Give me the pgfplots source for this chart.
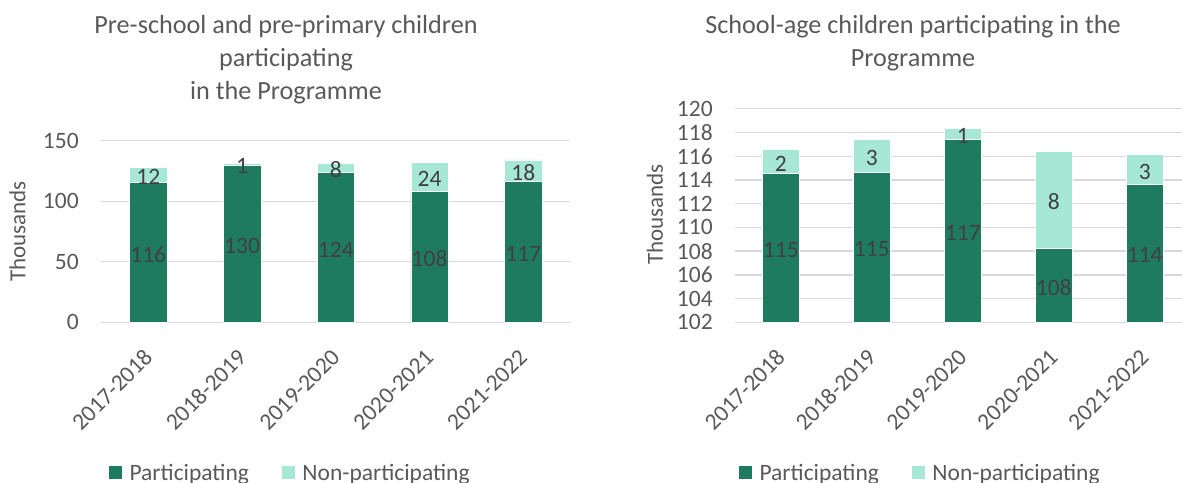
\documentclass[border=0pt]{standalone}
\usepackage{fontspec}
\setmainfont{Carlito}
\usepackage{pgfplots}
\usepackage{pgfplotstable}
\pgfplotsset{compat=1.18}

\definecolor{partgreen}{HTML}{1F7B60}
\definecolor{nongreen}{HTML}{A6E8D5}
\definecolor{txtgrey}{HTML}{595959}
\definecolor{lblgrey}{HTML}{404040}
\definecolor{gridgrey}{HTML}{D9D9D9}

% pre-school, thousands
\pgfplotstableread{
x y
0 115.6
1 129.9
2 123.7
3 108.2
4 116.6
}\preP
\pgfplotstableread{
x y
0 12.2
1 1.1
2 7.9
3 24.2
4 17.6
}\preN
% school-age, thousands
\pgfplotstableread{
x y
0 114.54
1 114.66
2 117.41
3 108.25
4 113.62
}\schP
\pgfplotstableread{
x y
0 2.03
1 2.75
2 0.93
3 8.15
4 2.53
}\schN

% data labels, set in the middle of each visible segment
\pgfplotstableread{
x y lab
0 57.8 116
1 64.95 130
2 61.85 124
3 54.1 108
4 58.3 117
0 121.7 12
1 130.45 1
2 127.65 8
3 120.3 24
4 125.4 18
}\preLab
\pgfplotstableread{
x y lab
0 108.27 115
1 108.33 115
2 109.705 117
3 105.125 108
4 107.81 114
0 115.555 2
1 116.035 3
2 117.875 1
3 112.325 8
4 114.885 3
}\schLab

\pgfplotsset{
  panel/.style={
    scale only axis,
    ybar stacked,
    enlargelimits=false,
    axis line style={draw=none},
    tick style={draw=none},
    ymajorgrids,
    grid style={gridgrey, line width=1.4pt},
    xtick=data,
    xticklabels={2017-2018,2018-2019,2019-2020,2020-2021,2021-2022},
    xmin=-0.5,
    ticklabel style={font=\fontsize{23.5}{26}\selectfont, text=txtgrey},
    xticklabel style={inner sep=0pt, xshift=0pt, yshift=-31pt, rotate=45, anchor=east},
    yticklabel style={anchor=east, inner sep=0pt, xshift=-22.5pt},
    /pgf/number format/assume math mode=true,
    ylabel={Thousands},
    ylabel style={font=\fontsize{23}{26}\selectfont, text=txtgrey, anchor=center},
    legend columns=2,
    legend style={draw=none, fill=none, font=\fontsize{23.5}{26}\selectfont, text=txtgrey,
      anchor=center, /tikz/every even column/.append style={column sep=30pt}},
    legend image code/.code={\fill[#1] (0pt,-6pt) rectangle (14pt,8pt); \path (19pt,0pt);},
  },
  labels/.style={
    scale only axis, hide axis, clip=false,
    enlargelimits=false, xmin=-0.5,
  },
  labelplot/.style={
    draw=none, mark=none,
    nodes near coords, point meta=explicit symbolic,
    every node near coord/.append style={font=\fontsize{23.5}{26}\selectfont,
      text=lblgrey, anchor=center, inner sep=0pt, yshift=-2pt},
  },
}

\begin{document}
\begin{tikzpicture}

\begin{axis}[panel,
    at={(101.4pt,159.7pt)}, anchor=south west,
    width=468.8pt, height=181.6pt,
    xmax=4.5, ymin=0, ymax=150,
    ytick={0,50,100,150},
    bar width=37.5pt,
    ylabel style={at={(axis description cs:-0.179,0.5)}},
    legend style={at={(axis description cs:0.402,-0.83)}},
  ]
  \addplot[fill=partgreen, draw=white, line width=0.5pt] table[x=x, y=y] {\preP};
  \addplot[fill=nongreen, draw=white, line width=0.5pt] table[x=x, y=y] {\preN};
  \legend{Participating, Non-participating}
\end{axis}
\begin{axis}[labels,
    at={(101.4pt,159.7pt)}, anchor=south west,
    width=468.8pt, height=181.6pt,
    xmax=4.5, ymin=0, ymax=150]
  \addplot[labelplot] table[x=x, y=y, meta=lab] {\preLab};
\end{axis}

\begin{axis}[panel,
    at={(735.4pt,159.7pt)}, anchor=south west,
    width=446.6pt, height=213.5pt,
    xmax=4.41, ymin=102, ymax=120,
    ytick={102,104,...,120},
    bar width=36.4pt,
    ylabel style={at={(axis description cs:-0.18,0.505)}},
    legend style={at={(axis description cs:0.413,-0.706)}},
  ]
  \addplot[fill=partgreen, draw=white, line width=0.5pt] table[x=x, y=y] {\schP};
  \addplot[fill=nongreen, draw=white, line width=0.5pt] table[x=x, y=y] {\schN};
  \legend{Participating, Non-participating}
\end{axis}
\begin{axis}[labels,
    at={(735.4pt,159.7pt)}, anchor=south west,
    width=446.6pt, height=213.5pt,
    xmax=4.41, ymin=102, ymax=120]
  \addplot[labelplot] table[x=x, y=y, meta=lab] {\schLab};
\end{axis}

\node[align=center, font=\fontsize{26.2}{33}\selectfont, text=txtgrey] at (286pt,422pt)
  {Pre-school and pre-primary children\\participating\\in the Programme};
\node[align=center, font=\fontsize{26.2}{33}\selectfont, text=txtgrey] at (913pt,438.5pt)
  {School-age children participating in the\\Programme};

\pgfresetboundingbox
\path[use as bounding box] (0pt,0pt) rectangle (1182pt,482pt);
\end{tikzpicture}
\end{document}
